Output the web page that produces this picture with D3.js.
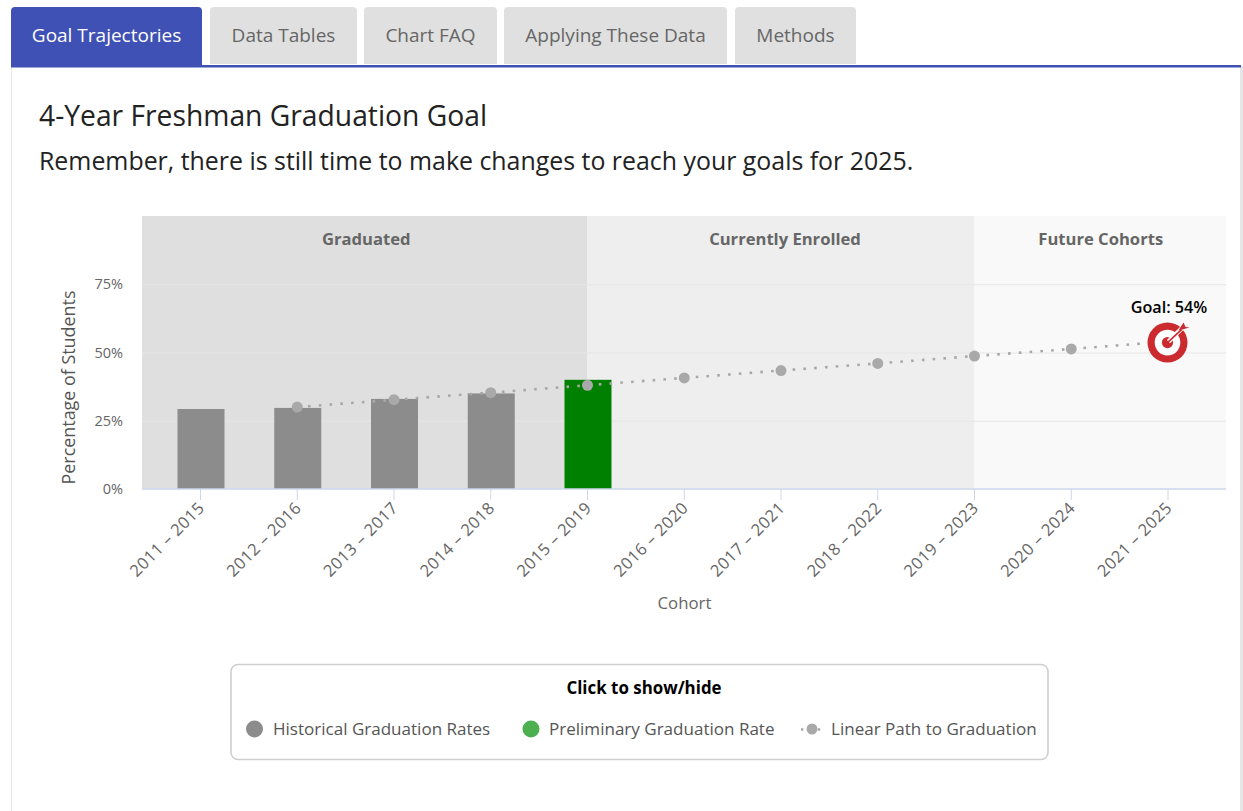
<!DOCTYPE html>
<html><head><meta charset="utf-8">
<script src="https://d3js.org/d3.v7.min.js"></script>
<style>html,body{margin:0;padding:0;background:#fff;overflow:hidden}svg{display:block}text{font-family:"Open Sans","Noto Sans",sans-serif}</style>
</head><body><div id="c"></div>
<script>
const cohorts=["2011 - 2015","2012 - 2016","2013 - 2017","2014 - 2018","2015 - 2019","2016 - 2020","2017 - 2021","2018 - 2022","2019 - 2023","2020 - 2024","2021 - 2025"];
const historical=[29.3,29.7,33,35];
const preliminary=[["2015 - 2019",40]];
const pathCohorts=cohorts.slice(1);
const pathValues=[30,32.7,35.3,38,40.7,43.4,46,48.7,51.3,54];
const yTicks=[0,25,50,75];
const bandNames=["Graduated","Currently Enrolled","Future Cohorts"];
const bandEdges=[null,"2015 - 2019","2019 - 2023",null];
const bandFills=["#dfdfdf","#eeeeee","#f9f9f9"];
const bandLabelShift=[1.5,4,0.5];
const tabNames=["Goal Trajectories","Data Tables","Chart FAQ","Applying These Data","Methods"];
const tabEdges=[[11,202],[210,357],[364,497],[504,727],[735,856]];
const legendNames=["Historical Graduation Rates","Preliminary Graduation Rate","Linear Path to Graduation"];

const svg=d3.select("#c").append("svg").attr("width",1243).attr("height",811);
// panel
svg.append("line").attr("x1",11.5).attr("x2",11.5).attr("y1",66).attr("y2",811).attr("stroke","#e4e4e4");
svg.append("rect").attr("x",1240).attr("y",66).attr("width",3).attr("height",745).attr("fill","#e6e6e6");
svg.append("rect").attr("x",11).attr("y",65).attr("width",1230).attr("height",2.5).attr("fill","#3f51b5");
tabNames.forEach((t,i)=>{
  const [a,b]=tabEdges[i],on=i===0;
  const h=on?60:57;
  svg.append("path").attr("d",`M${a},${7+h}V11a4,4 0 0 1 4,-4H${b-4}a4,4 0 0 1 4,4V${7+h}Z`).attr("fill",on?"#3f51b5":"#e0e0e0");
  svg.append("text").attr("x",(a+b)/2).attr("y",42).attr("text-anchor","middle").attr("font-size",19).attr("fill",on?"#fff":"#666").text(t);
});
svg.append("text").attr("x",39).attr("y",126).attr("font-size",28.25).attr("fill","#222").text("4-Year Freshman Graduation Goal");
svg.append("text").attr("x",39).attr("y",170).attr("font-size",24.9).attr("fill","#222").text("Remember, there is still time to make changes to reach your goals for 2025.");

const L=142,R=1226,T=216,B=489;
const x=d3.scalePoint().domain(cohorts).range([200.5,1168]);
const y=d3.scaleLinear().domain([0,100]).range([B,T]);
const g=svg.append("g");
// bands
const edges=bandEdges.map((e,i)=>e?x(e):(i===0?L:R));
bandNames.forEach((n,i)=>{
  g.append("rect").attr("x",edges[i]).attr("y",T).attr("width",edges[i+1]-edges[i]).attr("height",B-T).attr("fill",bandFills[i]);
  g.append("text").attr("x",(edges[i]+edges[i+1])/2+bandLabelShift[i]).attr("y",245).attr("text-anchor","middle").attr("font-size",16.6).attr("font-weight",700).attr("fill","#666").text(n);
});
// grid
g.selectAll(".gl").data(yTicks.slice(1)).join("line").attr("x1",L).attr("x2",R).attr("y1",d=>y(d)+.5).attr("y2",d=>y(d)+.5).attr("stroke","#e6e6e6").attr("stroke-width",1);
// y axis
g.selectAll(".yl").data(yTicks).join("text").attr("x",123).attr("y",d=>y(d)+5).attr("text-anchor","end").attr("font-size",14.5).attr("fill","#666").text(d=>d+"%");
g.append("text").attr("transform","translate(75,387.5) rotate(-90)").attr("text-anchor","middle").attr("font-size",17.9).attr("fill","#555").text("Percentage of Students");
// bars
const bw=47;
g.selectAll(".h").data(historical).join("rect").attr("x",(d,i)=>x(cohorts[i])+.5-bw/2).attr("width",bw).attr("y",d=>y(d)).attr("height",d=>B-y(d)).attr("fill","#8c8c8c");
g.selectAll(".p").data(preliminary).join("rect").attr("x",d=>x(d[0])+.5-bw/2).attr("width",bw).attr("y",d=>y(d[1])).attr("height",d=>B-y(d[1])).attr("fill","#008000");
// x axis
g.append("line").attr("x1",L).attr("x2",R).attr("y1",B).attr("y2",B).attr("stroke","#ccd6eb").attr("stroke-width",1.5);
g.selectAll(".tk").data(cohorts).join("line").attr("x1",d=>x(d)).attr("x2",d=>x(d)).attr("y1",B).attr("y2",B+11).attr("stroke","#ccd6eb");
g.selectAll(".xl").data(cohorts).join("text").attr("transform",d=>`translate(${x(d)+5},${B+20}) rotate(-45)`).attr("text-anchor","end").attr("font-size",16.5).attr("letter-spacing",0.45).attr("fill","#666").text(d=>d.replace(" - "," – "));
g.append("text").attr("x",684.5).attr("y",609).attr("text-anchor","middle").attr("font-size",16.8).attr("fill","#666").text("Cohort");
// path
const line=d3.line().x((d,i)=>x(pathCohorts[i])).y(d=>y(d));
g.append("path").attr("d",line(pathValues)).attr("fill","none").attr("stroke","#a8a8a8").attr("stroke-width",2.6).attr("stroke-dasharray","2.6 8.2");
g.selectAll(".pt").data(pathValues.slice(0,-1)).join("circle").attr("cx",(d,i)=>x(pathCohorts[i])).attr("cy",d=>y(d)).attr("r",5.5).attr("fill","#a9a9a9");
// target
const tx=x(cohorts[10])-.5,ty=y(pathValues[9])+1;
const tg=g.append("g").attr("transform",`translate(${tx},${ty})`);
tg.append("circle").attr("r",20).attr("fill","#cb2a2f");
tg.append("circle").attr("r",12.8).attr("fill","#fff");
tg.append("circle").attr("r",5.6).attr("fill","#cb2a2f");
tg.append("line").attr("x1",1).attr("y1",-1).attr("x2",14).attr("y2",-14).attr("stroke","#fff").attr("stroke-width",4.5);
tg.append("line").attr("x1",0).attr("y1",0).attr("x2",14).attr("y2",-13).attr("stroke","#cb2a2f").attr("stroke-width",1.6);
tg.append("path").attr("d","M11,-12L16,-20L18,-15.5L22,-15Z").attr("fill","#cb2a2f");
g.append("text").attr("x",tx+1.5).attr("y",313).attr("text-anchor","middle").attr("font-size",16.2).attr("font-weight",600).attr("fill","#000").text("Goal: "+pathValues[9]+"%");
// legend
svg.append("rect").attr("x",231).attr("y",664.5).attr("width",817).attr("height",95).attr("rx",7).attr("fill","#fff").attr("stroke","#cfcfcf").attr("stroke-width",1.6);
svg.append("text").attr("x",644).attr("y",694).attr("text-anchor","middle").attr("font-size",16.9).attr("font-weight",700).attr("fill","#000").text("Click to show/hide");
const lx=[254.5,531,812],lc=["#8c8c8c","#4caf50","#a9a9a9"],lt=[273,549,831],lr=[8.5,8.5,5.5];
legendNames.forEach((n,i)=>{
  if(i===2) svg.append("line").attr("x1",801).attr("x2",822).attr("y1",729.5).attr("y2",729.5).attr("stroke","#a8a8a8").attr("stroke-width",2.4).attr("stroke-dasharray","2.4 6");
  svg.append("circle").attr("cx",lx[i]).attr("cy",729).attr("r",lr[i]).attr("fill",lc[i]);
  svg.append("text").attr("x",lt[i]).attr("y",735).attr("font-size",17.05).attr("fill","#555").text(n);
});
</script></body></html>
